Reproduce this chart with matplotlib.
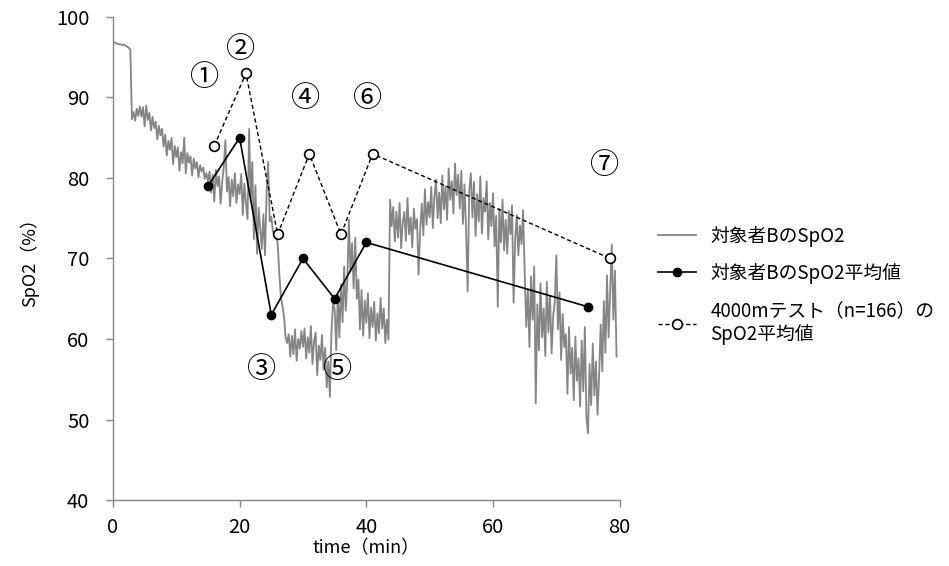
import matplotlib
matplotlib.use("Agg")
import matplotlib.pyplot as plt
import numpy as np

plt.rcParams['font.family'] = ['Noto Sans CJK JP', 'DejaVu Sans']

# 対象者BのSpO2 (0.25分ごとの記録値)
dt = 0.25
spo2_b = [
    96.8, 96.9, 96.7, 96.7, 96.6, 96.6, 96.5, 96.6, 96.4, 96.3, 96.2, 95.9, 87.3, 88.2, 87.1, 88.6, 87.7, 88.9, 87.6, 88.8,
    86.4, 89.0, 87.2, 88.1, 85.9, 87.6, 86.2, 87.0, 84.8, 86.5, 85.3, 86.1, 83.9, 85.4, 82.8, 84.6, 83.5, 85.0, 81.7, 84.0,
    82.6, 83.8, 80.9, 83.2, 81.8, 85.0, 80.6, 83.1, 81.9, 82.7, 80.3, 82.4, 81.2, 82.0, 80.1, 81.6, 80.8, 81.3, 79.9, 80.6,
    79.6, 80.8, 78.2, 80.4, 77.1, 81.0, 79.0, 80.2, 76.8, 79.6, 81.4, 84.7, 78.3, 80.1, 76.5, 79.8, 77.7, 80.6, 76.9, 79.2,
    78.0, 80.5, 75.4, 79.3, 76.8, 74.9, 86.1, 77.2, 82.0, 72.4, 79.1, 70.6, 76.3, 73.8, 71.2, 75.5, 70.4, 78.0, 82.0, 74.6,
    75.2, 73.4, 72.8, 73.0, 71.9, 68.4, 65.3, 64.1, 62.8, 60.3, 59.5, 60.6, 57.8, 60.4, 58.1, 61.2, 57.3, 60.0, 58.8, 61.0,
    59.0, 61.3, 57.6, 60.2, 58.3, 61.6, 56.9, 59.7, 60.8, 55.5, 59.2, 57.4, 60.5, 56.2, 58.9, 54.0, 57.2, 52.8, 61.0, 64.5,
    63.8, 58.6, 65.5, 60.2, 66.8, 62.1, 69.0, 63.5, 67.2, 74.8, 68.4, 71.9, 66.3, 72.6, 65.0, 67.4, 61.2, 66.1, 60.4, 64.8,
    62.0, 65.7, 60.1, 63.9, 61.5, 64.6, 59.8, 63.2, 60.7, 65.1, 61.3, 63.8, 59.5, 62.4, 59.9, 77.3, 74.0, 76.4, 72.1, 75.8,
    72.6, 76.9, 71.3, 74.5, 75.8, 72.2, 77.5, 73.0, 75.1, 71.4, 76.2, 73.7, 74.9, 68.0, 73.5, 76.8, 72.9, 78.6, 74.2, 77.0,
    75.1, 78.9, 73.8, 77.6, 79.8, 75.0, 78.2, 74.4, 80.3, 76.1, 79.0, 74.8, 81.2, 77.3, 79.6, 75.6, 81.8, 77.9, 80.4, 76.2,
    80.9, 74.3, 79.2, 73.5, 65.9, 78.4, 80.6, 75.1, 79.5, 72.8, 78.0, 74.6, 80.2, 73.1, 77.5, 75.8, 79.6, 72.4, 76.9, 74.0,
    78.1, 71.5, 75.3, 64.0, 76.2, 72.0, 77.3, 71.0, 74.8, 70.6, 75.9, 73.0, 76.6, 64.5, 72.3, 75.4, 70.4, 74.1, 71.8, 76.0,
    68.3, 61.5, 66.2, 59.0, 67.8, 62.4, 69.0, 52.0, 64.3, 58.6, 66.9, 60.2, 63.8, 57.9, 67.1, 60.8, 65.4, 58.2, 62.9, 64.6,
    70.4, 61.2, 65.8, 57.4, 63.1, 59.0, 60.6, 53.2, 61.5, 55.7, 58.9, 52.4, 60.3, 54.8, 57.6, 51.6, 59.8, 53.5, 61.5, 50.2,
    48.3, 56.9, 51.8, 59.4, 53.0, 57.2, 50.6, 55.4, 61.8, 56.0, 64.7, 58.3, 67.9, 60.2, 66.1, 71.7, 62.4, 68.5, 57.8,
]
time_b = np.arange(len(spo2_b)) * dt

# 対象者BのSpO2平均値
mean_b_time = [15, 20, 25, 30, 35, 40, 75]
mean_b_val = [79, 85, 63, 70, 65, 72, 64]

# 4000mテスト(n=166)のSpO2平均値
test_time = [16, 21, 26, 31, 36, 41, 78.5]
test_val = [84, 93, 73, 83, 73, 83, 70]

# 区間番号
stage_labels = ['①', '②', '③', '④', '⑤', '⑥', '⑦']
stage_x = [14.5, 20.2, 23.5, 30.4, 35.5, 40.2, 77.6]
stage_y = [92.4, 95.9, 56.1, 89.8, 56.1, 89.8, 81.5]

fig = plt.figure(figsize=(9.49, 5.66), dpi=100)
ax = fig.add_axes([0.119, 0.1166, 0.534, 0.8534])

ax.plot(time_b, spo2_b, color='#858585', lw=1.3, label='対象者BのSpO2', zorder=1)
ax.plot(mean_b_time, mean_b_val, color='black', lw=1.2, marker='o', ms=6,
        mfc='black', mec='black', label='対象者BのSpO2平均値', zorder=3)
ax.plot(test_time, test_val, color='black', lw=1.0, ls=(0, (3, 2)), marker='o', ms=7,
        mfc='white', mec='black', mew=1.2, label='4000mテスト（n=166）の\nSpO2平均値', zorder=3)

for s, x, y in zip(stage_labels, stage_x, stage_y):
    ax.text(x, y, s, fontsize=21, ha='center', va='center', zorder=4)

ax.set_xlim(0, 80)
ax.set_ylim(40, 100)
ax.set_xticks(np.arange(0, 81, 20))
ax.set_yticks(np.arange(40, 101, 10))
for side in ['top', 'right']:
    ax.spines[side].set_visible(False)
for side in ['left', 'bottom']:
    ax.spines[side].set_color('#868686')
    ax.spines[side].set_linewidth(1.0)
ax.tick_params(colors='#868686', labelcolor='black', labelsize=14.5, length=5, width=1.0)
ax.tick_params(axis='y', pad=12)
ax.tick_params(axis='x', pad=7)

ax.set_xlabel('time（min）', fontsize=13, labelpad=1)
ax.set_ylabel('SpO2（%）', fontsize=13, labelpad=12)

fig.legend(loc='upper left', bbox_to_anchor=(658 / 949, (566 - 226) / 566),
           frameon=False, fontsize=13.5, borderpad=0, borderaxespad=0,
           handlelength=2.0, handletextpad=0.8, labelspacing=0.85)

fig.savefig('out.png', dpi=100)
